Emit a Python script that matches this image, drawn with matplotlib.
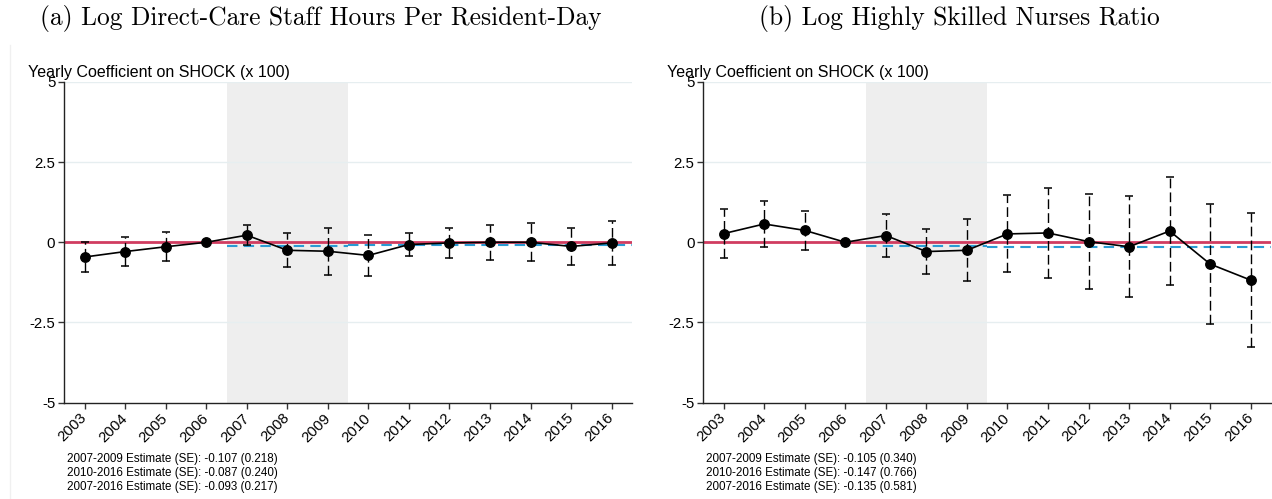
import numpy as np
import matplotlib
matplotlib.use("Agg")
import matplotlib.pyplot as plt

# dados
years = list(range(2003, 2017))

a_coef = [-0.46, -0.29, -0.14, 0.0, 0.22, -0.25, -0.28, -0.41, -0.07, -0.02, 0.0, 0.0, -0.13, -0.02]
a_hi = [0.02, 0.16, 0.31, np.nan, 0.54, 0.28, 0.45, 0.23, 0.30, 0.46, 0.55, 0.59, 0.45, 0.65]
a_lo = [-0.93, -0.74, -0.59, np.nan, -0.10, -0.77, -1.01, -1.06, -0.44, -0.50, -0.55, -0.58, -0.70, -0.70]

b_coef = [0.27, 0.57, 0.37, 0.0, 0.21, -0.29, -0.25, 0.26, 0.29, 0.02, -0.14, 0.35, -0.68, -1.18]
b_hi = [1.05, 1.28, 0.96, np.nan, 0.87, 0.41, 0.73, 1.47, 1.69, 1.50, 1.44, 2.04, 1.20, 0.90]
b_lo = [-0.50, -0.15, -0.23, np.nan, -0.45, -1.00, -1.22, -0.94, -1.11, -1.46, -1.70, -1.33, -2.55, -3.27]

a_est = [-0.107, -0.087, -0.093]
a_se = [0.218, 0.240, 0.217]
b_est = [-0.105, -0.147, -0.135]
b_se = [0.340, 0.766, 0.581]

periods = ["2007-2009", "2010-2016", "2007-2016"]
titles = ["(a) Log Direct-Care Staff Hours Per Resident-Day",
          "(b) Log Highly Skilled Nurses Ratio"]
ylabel = "Yearly Coefficient on SHOCK (x 100)"
yticks = [-5, -2.5, 0, 2.5, 5]
ytick_labels = ["-5", "-2.5", "0", "2.5", "5"]

plt.rcParams['font.family'] = ['Liberation Sans', 'DejaVu Sans']

fig = plt.figure(figsize=(12.72, 4.99), dpi=100)

panels = [
    (a_coef, a_hi, a_lo, a_est, a_se, 0.0506),
    (b_coef, b_hi, b_lo, b_est, b_se, 0.5530),
]

red = "#d03c60"
blue = "#2b9bd3"

for i, (coef, hi, lo, est, se, x0) in enumerate(panels):
    ax = fig.add_axes([x0, 0.193, 0.4462, 0.643])
    coef = np.array(coef)
    hi = np.array(hi)
    lo = np.array(lo)

    # area cinza 2007-2009
    ax.axvspan(2006.5, 2009.5, color="#eeeeee", lw=0, zorder=0)
    for g in [5, 2.5, -2.5]:
        ax.axhline(g, color="#e6eef0", lw=1, zorder=1)
    ax.axhline(0, color=red, lw=2, zorder=2)
    ax.hlines(est[0], 2006.5, 2009.5, color=blue, lw=1.5, linestyles=(0, (5, 3)), zorder=3)
    ax.hlines(est[1], 2009.5, 2016.5, color=blue, lw=1.5, linestyles=(0, (5, 3)), zorder=3)

    mid = (hi + lo) / 2
    err = np.vstack([mid - lo, hi - mid])
    eb = ax.errorbar(years, mid, yerr=err, fmt='none', ecolor='black', elinewidth=1,
                     capsize=2.8, capthick=1.1, zorder=4)
    eb[2][0].set_linestyle((0, (7, 3)))

    ax.plot(years, coef, color='black', lw=1.2, marker='o', markersize=6.8, zorder=5)

    ax.set_xlim(2002.5, 2016.5)
    ax.set_ylim(-5, 5)
    ax.set_yticks(yticks)
    ax.set_yticklabels(ytick_labels)
    ax.set_xticks(years)
    ax.set_xticklabels([str(y) for y in years], rotation=45, ha='right',
                       va='center', rotation_mode='anchor')
    ax.tick_params(axis='both', labelsize=10.8, length=4.5, width=1, color='#333333', pad=2)
    ax.tick_params(axis='x', pad=5)
    for s in ['top', 'right']:
        ax.spines[s].set_visible(False)
    for s in ['left', 'bottom']:
        ax.spines[s].set_color('#222222')
        ax.spines[s].set_linewidth(1)

    # titulo e textos
    fig.text(x0 - 0.0506 + 0.252, 0.963, titles[i], family='cmr10', fontsize=18.3,
             ha='center', va='center')
    fig.text(x0 - 0.0506 + 0.022, 0.855, ylabel, fontsize=11.5, ha='left', va='center')
    for k in range(3):
        fig.text(x0 - 0.0506 + 0.0527, 0.081 - k * 0.028,
                 f"{periods[k]} Estimate (SE): {est[k]:.3f} ({se[k]:.3f})",
                 fontsize=8.4, ha='left', va='center')

fig.add_artist(plt.Line2D([0.0075, 0.0075], [0.0, 0.91], color='#f0f0f0', lw=1))

fig.savefig("out.png", dpi=100)
